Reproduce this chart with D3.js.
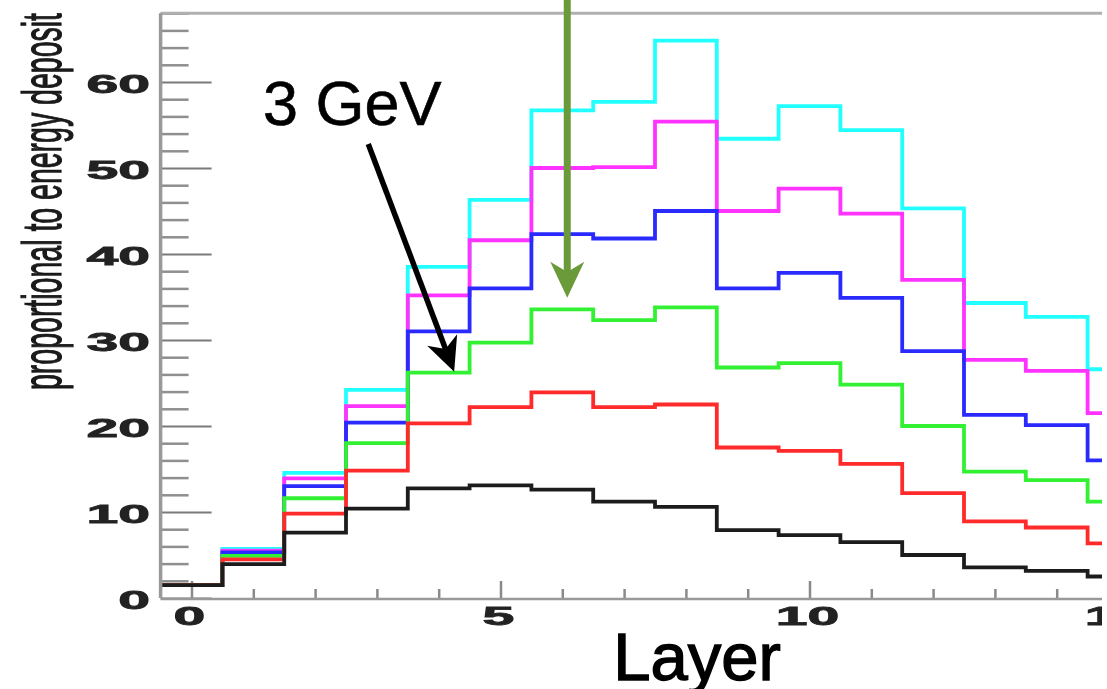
<!DOCTYPE html>
<html>
<head>
<meta charset="utf-8">
<script src="https://cdn.jsdelivr.net/npm/d3@7"></script>
<style>
  html, body { margin: 0; padding: 0; background: #fff; }
  svg { display: block; }
</style>
</head>
<body>
<svg id="chart"></svg>
<script>
// layer numbers (bin centres)
var layers = [0, 1, 2, 3, 4, 5, 6, 7, 8, 9, 10, 11, 12, 13, 14, 15];

// energy deposit per layer, one list per beam energy
var blackVals   = [1.5, 3.95, 7.6, 10.4, 12.75, 13.1, 12.6, 11.2, 10.6, 7.9, 7.3, 6.5, 5.0, 3.55, 3.15, 2.5];
var redVals     = [1.5, 4.5, 9.8, 14.8, 20.3, 22.2, 23.9, 22.2, 22.5, 17.5, 17.1, 15.6, 12.2, 8.9, 8.2, 6.35];
var greenVals   = [1.5, 4.9, 11.6, 18.0, 26.2, 29.7, 33.55, 32.3, 33.8, 26.8, 27.3, 24.8, 20.0, 14.7, 13.7, 11.2];
var blueVals    = [1.5, 5.3, 13.0, 20.4, 31.0, 36.0, 42.3, 41.8, 45.0, 36.0, 37.8, 34.9, 28.7, 21.3, 20.1, 16.0];
var magentaVals = [1.5, 5.5, 13.9, 22.3, 35.2, 41.6, 50.0, 50.1, 55.4, 45.0, 47.6, 44.7, 37.0, 27.7, 26.4, 21.5];
var cyanVals    = [1.5, 5.7, 14.55, 24.2, 38.5, 46.3, 56.7, 57.7, 64.8, 53.4, 57.2, 54.4, 45.3, 34.3, 32.7, 26.6];

// tick labels
var yTickLabels = [0, 10, 20, 30, 40, 50, 60];
var xTickLabels = [0, 5, 10, 15];

var width = 1107, height = 689;

var svg = d3.select("#chart")
  .attr("width", width)
  .attr("height", height);

// scales: pixel frame of the (stretched) ROOT canvas
var x = d3.scaleLinear().domain([-0.5, 15.5]).range([160.6, 1149.4]),
    y = d3.scaleLinear().domain([0, 68]).range([598, 13.2]);

var defs = svg.append("defs");
defs.append("filter").attr("id", "soft")
  .append("feGaussianBlur").attr("stdDeviation", 0.6);
defs.append("clipPath").attr("id", "crop")
  .append("rect").attr("x", 0).attr("y", 0).attr("width", 1102).attr("height", height);

var plot = svg.append("g")
  .attr("clip-path", "url(#crop)")
  .append("g")
  .attr("filter", "url(#soft)");

// y ticks (drawn inwards)
plot.append("g")
  .attr("transform", "translate(" + x(-0.5) + ",0)")
  .call(d3.axisRight(y).tickValues(d3.range(0, 69, 2).filter(function(d) { return d % 10 != 0; }))
    .tickSize(28).tickFormat(""))
  .call(function(g) {
    g.select(".domain").remove();
    g.selectAll("line").attr("stroke", "#8f8f8f").attr("stroke-width", 2.5);
  });
plot.append("g")
  .attr("transform", "translate(" + x(-0.5) + ",0)")
  .call(d3.axisRight(y).tickValues(yTickLabels).tickSize(51).tickFormat(""))
  .call(function(g) {
    g.select(".domain").remove();
    g.selectAll("line").attr("stroke", "#7a7a7a").attr("stroke-width", 2);
  });

// x ticks (drawn upwards)
plot.append("g")
  .attr("transform", "translate(0," + y(0) + ")")
  .call(d3.axisTop(x).tickValues(layers.filter(function(d) { return d % 5 != 0; }))
    .tickSize(9).tickFormat(""))
  .call(function(g) {
    g.select(".domain").remove();
    g.selectAll("line").attr("stroke", "#8a8a8a").attr("stroke-width", 2.5);
  });
plot.append("g")
  .attr("transform", "translate(0," + y(0) + ")")
  .call(d3.axisTop(x).tickValues(xTickLabels).tickSize(17).tickFormat(""))
  .call(function(g) {
    g.select(".domain").remove();
    g.selectAll("line").attr("stroke", "#8a8a8a").attr("stroke-width", 2.5);
  });

// histograms
var series = [
  {name: "cyan",    color: "#22ffff", vals: cyanVals},
  {name: "magenta", color: "#ff33ff", vals: magentaVals},
  {name: "blue",    color: "#2a2aff", vals: blueVals},
  {name: "green",   color: "#33f033", vals: greenVals},
  {name: "red",     color: "#ff2a2a", vals: redVals},
  {name: "black",   color: "#1e1e1e", vals: blackVals}
];

var step = d3.line()
  .x(function(d) { return x(d[0]); })
  .y(function(d) { return y(d[1]); })
  .curve(d3.curveStepAfter);

function edges(vals) {
  var pts = layers.map(function(k, i) { return [k - 0.5, vals[i]]; });
  pts.push([layers[layers.length - 1] + 0.5, vals[vals.length - 1]]);
  return pts;
}

plot.selectAll(".hist")
    .data(series)
  .enter().append("path")
    .attr("class", "hist")
    .attr("d", function(d) { return step(edges(d.vals)); })
    .attr("fill", "none")
    .attr("stroke", function(d) { return d.color; })
    .attr("stroke-width", 3.8);

// frame
plot.append("line")
  .attr("x1", x(-0.5)).attr("x2", width)
  .attr("y1", y(68)).attr("y2", y(68))
  .attr("stroke", "#b0b0b0").attr("stroke-width", 3);
plot.append("line")
  .attr("x1", x(-0.5)).attr("x2", x(-0.5))
  .attr("y1", y(68)).attr("y2", y(0))
  .attr("stroke", "#999").attr("stroke-width", 3.5);
plot.append("line")
  .attr("x1", x(-0.5)).attr("x2", width)
  .attr("y1", y(0) + 1).attr("y2", y(0) + 1)
  .attr("stroke", "#999").attr("stroke-width", 2.5);

// tick labels, stretched like the original canvas
plot.selectAll(".ylab")
    .data(yTickLabels)
  .enter().append("text")
    .attr("class", "ylab")
    .attr("transform", function(d) { return "translate(150," + (y(d) + 10.5) + ") scale(2.2,1)"; })
    .attr("text-anchor", "end")
    .style("font-family", "'Liberation Sans', Arial, sans-serif")
    .style("font-weight", "bold")
    .style("font-size", "26px")
    .style("fill", "#222")
    .style("stroke", "#222")
    .style("stroke-width", 0.8)
    .text(function(d) { return d; });

plot.selectAll(".xlab")
    .data(xTickLabels)
  .enter().append("text")
    .attr("class", "xlab")
    .attr("transform", function(d) { return "translate(" + (x(d) - 2) + ",625) scale(2.2,1)"; })
    .attr("text-anchor", "middle")
    .style("font-family", "'Liberation Sans', Arial, sans-serif")
    .style("font-weight", "bold")
    .style("font-size", "26px")
    .style("fill", "#222")
    .style("stroke", "#222")
    .style("stroke-width", 0.8)
    .text(function(d) { return d; });

// y title
plot.append("text")
  .attr("transform", "translate(61,201.5) scale(1.95,1) rotate(-90)")
  .attr("text-anchor", "middle")
  .attr("textLength", 377)
  .attr("lengthAdjust", "spacingAndGlyphs")
  .style("font-family", "'Liberation Sans', Arial, sans-serif")
  .style("font-size", "28.5px")
  .style("fill", "#1a1a1a")
  .style("stroke", "#1a1a1a")
  .style("stroke-width", 0.6)
  .text("proportional to energy deposit");

// annotations
var notes = svg.append("g");

notes.append("text")
  .attr("x", 263).attr("y", 125)
  .style("font-family", "'Liberation Sans', Arial, sans-serif")
  .style("font-size", "63px")
  .style("fill", "#000")
  .style("stroke", "#000")
  .style("stroke-width", 0.6)
  .text("3 GeV");

notes.append("text")
  .attr("x", 697).attr("y", 680)
  .attr("text-anchor", "middle")
  .style("font-family", "'Liberation Sans', Arial, sans-serif")
  .style("font-size", "67px")
  .style("fill", "#000")
  .style("stroke", "#000")
  .style("stroke-width", 1.4)
  .text("Layer");

function arrow(g, x1, y1, x2, y2, color, lw, headLen, headHalf) {
  var dx = x2 - x1, dy = y2 - y1, len = Math.sqrt(dx * dx + dy * dy),
      ux = dx / len, uy = dy / len, px = -uy, py = ux;
  var bx = x2 - ux * headLen, by = y2 - uy * headLen,
      nx = x2 - ux * headLen * 0.72, ny = y2 - uy * headLen * 0.72;
  g.append("line")
    .attr("x1", x1).attr("y1", y1).attr("x2", nx).attr("y2", ny)
    .attr("stroke", color).attr("stroke-width", lw);
  g.append("path")
    .attr("d", "M" + x2 + "," + y2 +
      "L" + (bx + px * headHalf) + "," + (by + py * headHalf) +
      "L" + nx + "," + ny +
      "L" + (bx - px * headHalf) + "," + (by - py * headHalf) + "Z")
    .attr("fill", color);
}

// black arrow to the 3 GeV curve, green arrow from the top
arrow(notes, x(2.86), y(52.8), x(4.25), y(26.3), "#000", 5.5, 34, 16);
arrow(notes, x(6.08), y(70), x(6.08), y(34.9), "#6a9a39", 7, 36, 17);

// white strip at the right edge (picture is cropped there)
svg.append("rect")
  .attr("x", 1102).attr("y", 0).attr("width", 5).attr("height", height)
  .attr("fill", "#fff");
</script>
</body>
</html>
